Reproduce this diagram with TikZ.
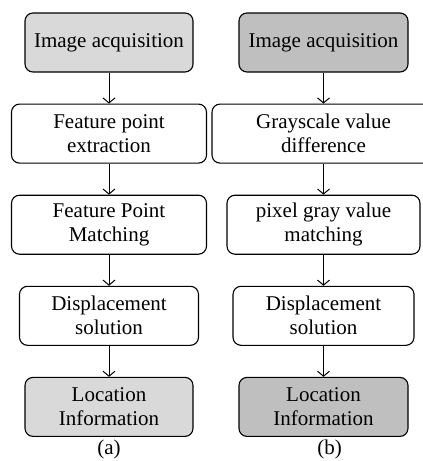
\documentclass[tikz,border=0pt]{standalone}
\usepackage{fontspec}
\setmainfont{Liberation Serif}
\usetikzlibrary{positioning, arrows.meta}
\definecolor{lightgrey}{HTML}{D9D9D9}
\definecolor{darkgrey}{HTML}{BFBFBF}
\tikzstyle{wblock} = [rectangle, draw, fill=white, line width=1.1pt, 
align=center, rounded corners=8pt, minimum height=59pt, font=\fontsize{21}{24}\selectfont]
\tikzstyle{lblock} = [wblock, fill=lightgrey]
\tikzstyle{dblock} = [wblock, fill=darkgrey]
\tikzstyle{arrow} = [line width=1pt, -{Straight Barb[length=5pt,width=12pt]}]
\tikzstyle{caption} = [font=\fontsize{21}{24}\selectfont, inner sep=1pt]

\begin{document}
\begin{tikzpicture}[x=1pt, y=1pt, node distance=31pt]
	\clip (0,0) rectangle (423,-461);
	% (a)
	\node (LAcq) [lblock, minimum width=168pt] at (109,-42.5) {Image acquisition};
	\node (LExt) [wblock, minimum width=195pt, below=of LAcq] {Feature point\\extraction};
	\node (LMatch) [wblock, minimum width=195pt, below=of LExt] {Feature Point\\Matching};
	\node (LDisp) [wblock, minimum width=179pt, below=of LMatch] {Displacement\\solution};
	\node (LLoc) [lblock, minimum width=168pt, below=of LDisp] {Location\\Information};
	\node (LCap) [caption, below=2pt of LLoc] {(a)};
	% (b)
	\node (RAcq) [dblock, minimum width=169pt] at (323.5,-42.5) {Image acquisition};
	\node (RDiff) [wblock, minimum width=223pt, below=of RAcq] {Grayscale value\\difference};
	\node (RMatch) [wblock, minimum width=193pt, below=of RDiff] {pixel gray value\\matching};
	\node (RDisp) [wblock, minimum width=181pt, below=of RMatch] {Displacement\\solution};
	\node (RLoc) [dblock, minimum width=169pt, below=of RDisp] {Location\\Information};
	\node (RCap) [caption, below=2pt of RLoc, xshift=6pt] {(b)};

	\draw [arrow] (LAcq) -- (LExt);
	\draw [arrow] (LExt) -- (LMatch);
	\draw [arrow] (LMatch) -- (LDisp);
	\draw [arrow] (LDisp) -- (LLoc);
	\draw [arrow] (RAcq) -- (RDiff);
	\draw [arrow] (RDiff) -- (RMatch);
	\draw [arrow] (RMatch) -- (RDisp);
	\draw [arrow] (RDisp) -- (RLoc);
\end{tikzpicture}
\end{document}
